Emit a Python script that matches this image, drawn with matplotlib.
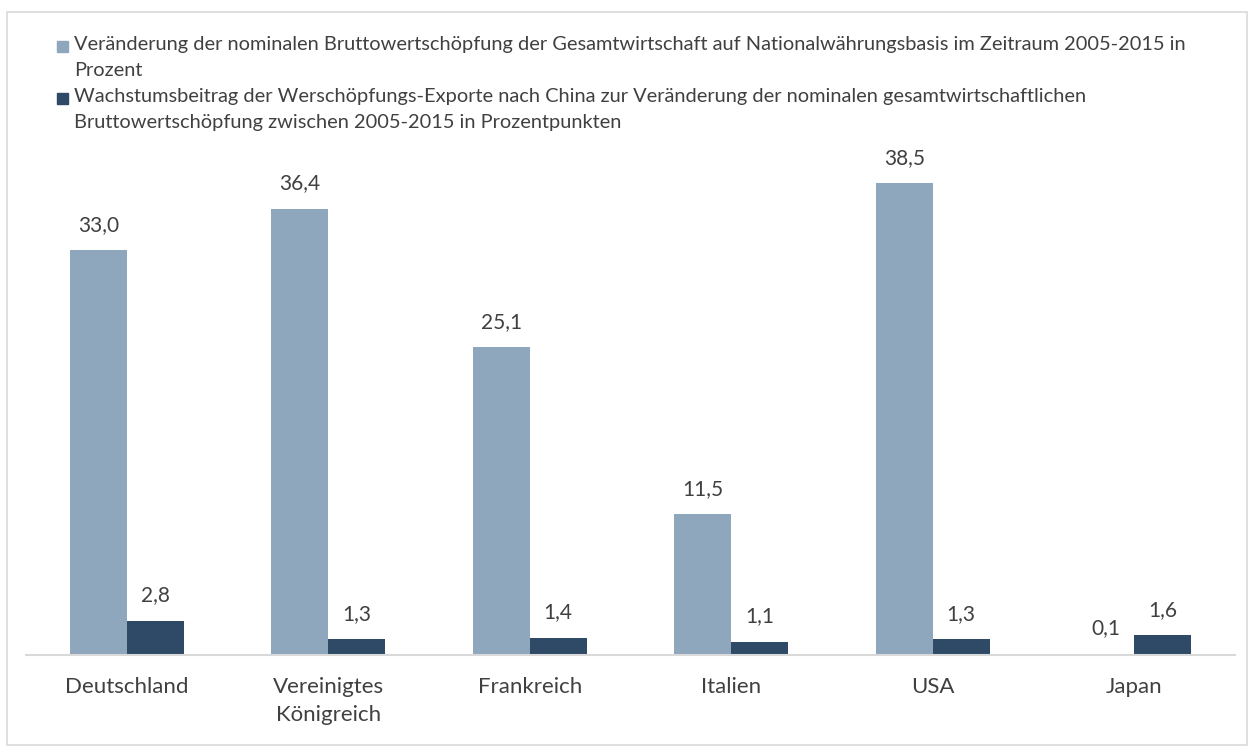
import matplotlib.pyplot as plt
from matplotlib.patches import Rectangle

# data
laender = ["Deutschland", "Vereinigtes\nKönigreich", "Frankreich", "Italien", "USA", "Japan"]
bws_veraenderung = [33.0, 36.4, 25.1, 11.5, 38.5, 0.1]
china_beitrag = [2.8, 1.3, 1.4, 1.1, 1.3, 1.6]
legend_labels = [
    "Veränderung der nominalen Bruttowertschöpfung der Gesamtwirtschaft auf Nationalwährungsbasis im Zeitraum 2005-2015 in\nProzent",
    "Wachstumsbeitrag der Werschöpfungs-Exporte nach China zur Veränderung der nominalen gesamtwirtschaftlichen\nBruttowertschöpfung zwischen 2005-2015 in Prozentpunkten",
]

hell = "#8FA7BC"
dunkel = "#2E4A66"
textfarbe = "#404040"

plt.rcParams['font.family'] = ['Lato', 'DejaVu Sans']

fig = plt.figure(figsize=(12.5, 7.47), dpi=100)
ax = fig.add_axes([26 / 1250, 1 - 655 / 747, 1209 / 1250, 490.4 / 747])

x = range(len(laender))
w = 0.283
b1 = ax.bar([i - w / 2 for i in x], bws_veraenderung, w, color=hell)
b2 = ax.bar([i + w / 2 for i in x], china_beitrag, w, color=dunkel)

for bars, vals in ((b1, bws_veraenderung), (b2, china_beitrag)):
    for r, v in zip(bars, vals):
        ax.annotate(f"{v:.1f}".replace(".", ","), (r.get_x() + r.get_width() / 2, v),
                    xytext=(0, 11), textcoords="offset points", ha="center", va="bottom",
                    fontsize=15, color=textfarbe, annotation_clip=False)

ax.set_xlim(-0.5, 5.5)
ax.set_ylim(0, 40)
ax.set_xticks(list(x))
ax.set_xticklabels(laender, fontsize=16, color=textfarbe, linespacing=1.5)
ax.tick_params(axis="x", length=0, pad=16)
ax.set_yticks([])
for s in ("top", "right", "left"):
    ax.spines[s].set_visible(False)
ax.spines["bottom"].set_color("#D9D9D9")
ax.spines["bottom"].set_linewidth(1.5)

# legend drawn by hand so the squares align with the first line
for i, (lab, col) in enumerate(zip(legend_labels, [hell, dunkel])):
    ytop = 36 + i * 52
    fig.patches.append(Rectangle((57 / 1250, 1 - (ytop + 16) / 747), 11 / 1250, 11 / 747,
                                 transform=fig.transFigure, color=col))
    fig.text(74 / 1250, 1 - ytop / 747, lab, fontsize=14.4, color=textfarbe,
             va="top", ha="left", linespacing=1.62)

# outer frame
fig.patches.append(Rectangle((7 / 1250, 2 / 747), 1240 / 1250, 733 / 747, transform=fig.transFigure,
                             fill=False, edgecolor="#D9D9D9", linewidth=1.2))

fig.savefig("out.png", dpi=100)
